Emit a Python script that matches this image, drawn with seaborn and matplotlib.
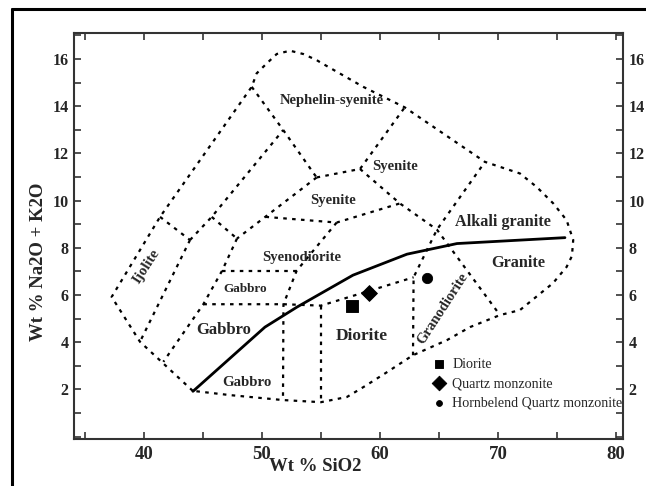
import matplotlib
matplotlib.use('Agg')
import matplotlib.pyplot as plt
from matplotlib.lines import Line2D
from matplotlib.ticker import MultipleLocator
import seaborn as sns
import pandas as pd

# 边界线 (SiO2, Na2O+K2O)
outer_x = [44.13, 39.66, 37.26, 41.36, 49.13, 49.55, 50.4, 51.25, 52.37, 53.5, 54.64, 54.9, 58.58, 62.1,
           68.9, 71.86, 73.28, 74.69, 75.82, 76.38, 76.27, 75.82, 74.66, 71.86, 70.17, 67.63, 65.68,
           62.8, 60.59, 58.73, 57.2, 55.0, 51.78, 47.29, 44.13]
outer_y = [1.94, 4.02, 5.92, 9.31, 14.82, 15.39, 15.81, 16.21, 16.35, 16.21, 15.95, 15.87, 14.82, 13.95,
           11.64, 11.15, 10.58, 9.88, 9.17, 8.33, 7.65, 7.19, 6.5, 5.36, 5.15, 4.64, 4.09,
           3.45, 2.73, 2.14, 1.68, 1.46, 1.55, 1.76, 1.94]

inner_lines = {
    'ijolite_top': ([41.36, 43.90], [9.31, 8.33]),
    'ijolite_right': ([43.90, 39.66], [8.33, 4.02]),
    'c': ([43.90, 45.74, 51.80], [8.33, 9.31, 12.99]),
    'b': ([49.13, 51.80, 54.63], [14.82, 12.99, 10.98]),
    'd': ([45.74, 47.88], [9.31, 8.39]),
    'e': ([54.63, 47.88], [10.98, 8.39]),
    'g': ([47.88, 46.62, 45.03, 41.64], [8.39, 7.03, 5.61, 3.17]),
    'neph_bottom': ([54.63, 58.31, 62.1], [10.98, 11.34, 13.95]),
    'f': ([50.3, 56.33, 61.69], [9.31, 9.07, 9.88]),
    'B': ([58.31, 61.69, 64.83, 70.17], [11.34, 9.88, 8.77, 5.15]),
    'A': ([62.8, 62.85, 64.83, 68.9], [3.45, 6.75, 8.77, 11.64]),
    'f2': ([56.33, 52.94, 51.82, 51.78], [9.07, 7.03, 5.61, 1.55]),
    'gabbro_top': ([46.62, 52.94], [7.03, 7.03]),
    'diorite_top': ([45.03, 51.82, 55.0, 62.85], [5.61, 5.61, 5.55, 6.75]),
    'v55': ([55.0, 55.0], [5.55, 1.46]),
}

# 碱性/亚碱性分界线
divide_x = [44.15, 50.25, 52.97, 57.71, 62.29, 66.53, 75.68]
divide_y = [1.92, 4.64, 5.49, 6.84, 7.73, 8.18, 8.43]

# 样品
sample_names = ['Diorite', 'Quartz monzonite', 'Hornbelend Quartz monzonite']
sample_x = [57.6, 59.07, 63.96]
sample_y = [5.55, 6.07, 6.74]
sample_marker = ['s', 'D', 'o']
sample_size = [65, 65, 55]

# 岩石名称标注
label_text = ['Nephelin-syenite', 'Syenite', 'Syenite', 'Alkali granite', 'Granite', 'Syenodiorite',
              'Gabbro', 'Gabbro', 'Gabbro', 'Diorite', 'Granodiorite', 'Ijolite']
label_x = [55.93, 61.27, 56.04, 70.45, 71.72, 53.36, 48.56, 46.72, 48.7, 58.45, 65.36, 40.17]
label_y = [14.26, 11.46, 10.02, 9.1, 7.34, 7.59, 6.24, 4.51, 2.28, 4.26, 5.43, 7.2]
label_size = [10.5, 10.5, 10.5, 11.7, 11.7, 10.5, 9.5, 12, 10.7, 12.5, 10.5, 10.7]
label_rot = [0, 0, 0, 0, 0, 0, 0, 0, 0, 0, 57, 57]

sns.set_style('ticks')
plt.rcParams['font.family'] = ['Liberation Serif', 'DejaVu Serif']

fig = plt.figure(figsize=(6.46, 4.86), dpi=100)
ax = fig.add_axes([0.1146, 0.0967, 0.8498, 0.8354])

dash = (0, (1.6, 2.4))
seg_rows = []
for i, (xs, ys) in enumerate([(outer_x, outer_y)] + list(inner_lines.values())):
    for j, (xx, yy) in enumerate(zip(xs, ys)):
        seg_rows.append({'seg': i, 'order': j, 'x': xx, 'y': yy})
seg_df = pd.DataFrame(seg_rows)
sns.lineplot(data=seg_df, x='x', y='y', units='seg', estimator=None, sort=False,
             color='black', lw=1.6, linestyle=dash, ax=ax, legend=False)

sns.lineplot(x=divide_x, y=divide_y, sort=False, estimator=None, color='black', lw=2.0, ax=ax)

for name, xx, yy, m, s in zip(sample_names, sample_x, sample_y, sample_marker, sample_size):
    sns.scatterplot(x=[xx], y=[yy], marker=m, s=s, color='black', edgecolor='black', ax=ax, label=name)

for t, xx, yy, fs, r in zip(label_text, label_x, label_y, label_size, label_rot):
    ax.text(xx, yy, t, fontsize=fs, fontweight='bold', rotation=r, ha='center', va='center')

ax.set_xlim(34.07, 80.6)
ax.set_ylim(-0.1, 17.1)
ax.xaxis.set_major_locator(MultipleLocator(10))
ax.xaxis.set_minor_locator(MultipleLocator(5))
ax.yaxis.set_minor_locator(MultipleLocator(1))
ax.set_yticks([2, 4, 6, 8, 10, 12, 14, 16])
ax.tick_params(which='both', direction='in', top=True, right=True, labelright=True,
               length=5, width=1.2, color='#333333')
ax.tick_params(axis='x', labelsize=13.5, pad=5)
ax.tick_params(axis='y', labelsize=11.5, pad=4)
for lab in ax.get_xticklabels() + ax.get_yticklabels():
    lab.set_fontweight('bold')
for t in ax.yaxis.get_major_ticks():
    t.label2.set_fontweight('bold')
for sp in ax.spines.values():
    sp.set_linewidth(1.5)
    sp.set_color('#333333')

ax.set_xlabel('Wt % SiO2', fontsize=13.5, fontweight='bold')
ax.set_ylabel('Wt % Na2O + K2O', fontsize=13.5, fontweight='bold')
ax.xaxis.set_label_coords(0.439, -0.047)
ax.yaxis.set_label_coords(-0.049, 0.436)

leg = ax.legend(loc='upper left', bbox_to_anchor=(0.652, 0.2), frameon=False, borderpad=0,
                handlelength=1.0, handletextpad=0.45, labelspacing=0.45, fontsize=10.1,
                borderaxespad=0)
for h, s in zip(leg.legend_handles, [35, 55, 18]):
    h.set_sizes([s])

fig.add_artist(Line2D([0.0193, 0.0193], [0.0, 0.9815], transform=fig.transFigure, color='black', lw=2.2))
fig.add_artist(Line2D([0.0193, 1.0], [0.9815, 0.9815], transform=fig.transFigure, color='black', lw=2.2))

fig.savefig('out.png', dpi=100)
